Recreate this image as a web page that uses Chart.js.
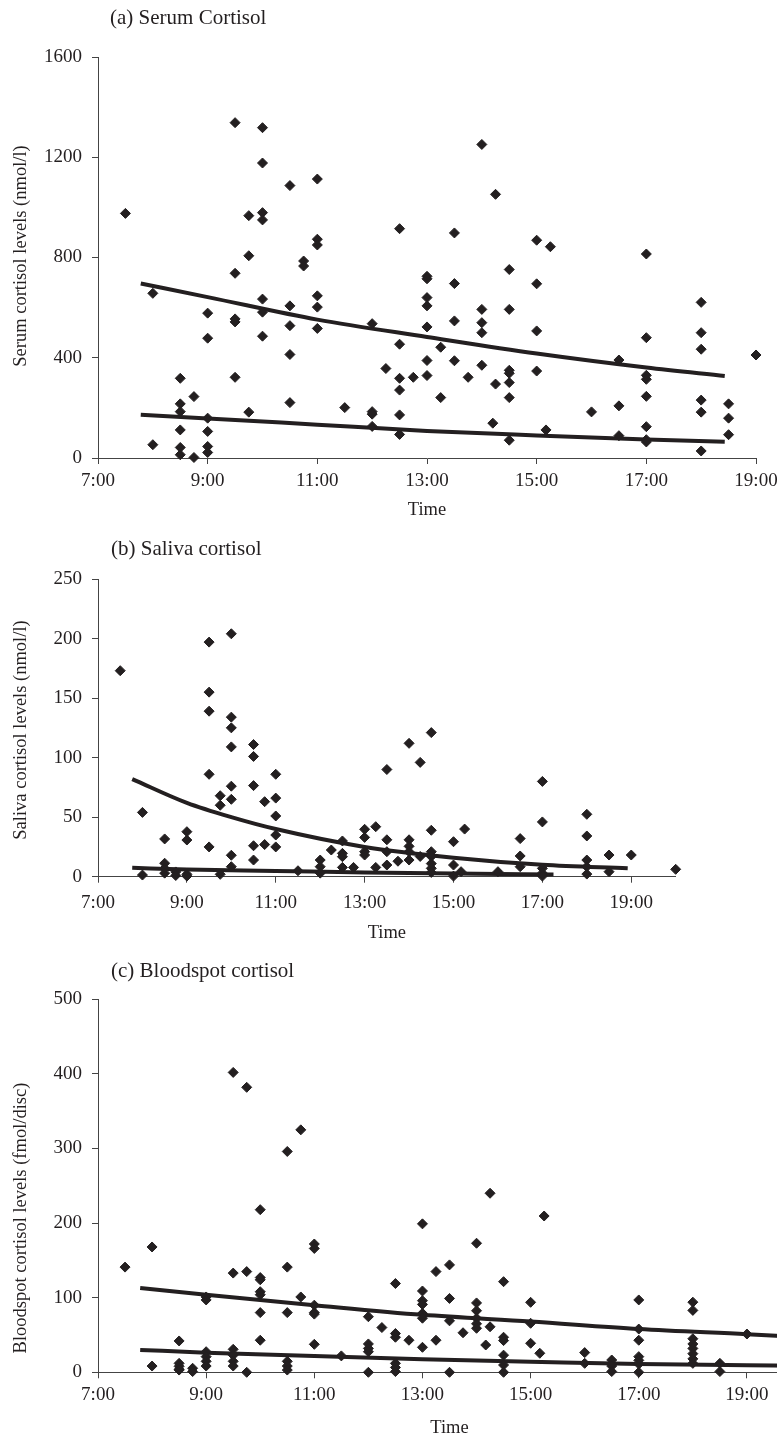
<!DOCTYPE html>
<html>
<head>
<meta charset="utf-8">
<script src="https://cdn.jsdelivr.net/npm/chart.js@4.4.1/dist/chart.umd.min.js"></script>
<style>
  html, body { margin: 0; padding: 0; background: #fff; }
  #page { position: relative; width: 777px; height: 1438px; overflow: hidden; background: #fff; }
  canvas { position: absolute; left: 0; }
  .ptitle { position: absolute; font-family: 'Liberation Serif', 'Times New Roman', serif; font-size: 21px; line-height: 24px; color: #231f20; white-space: nowrap; }
  .ytitle { position: absolute; font-family: 'Liberation Serif', 'Times New Roman', serif; font-size: 18.5px; line-height: 22px; color: #231f20; white-space: nowrap; transform: translate(-50%, -50%) rotate(-90deg); }
</style>
</head>
<body>
<div id="page">
  <canvas id="cA" width="810" height="530" style="top:0px"></canvas>
  <canvas id="cB" width="810" height="420" style="top:530px"></canvas>
  <canvas id="cC" width="810" height="510" style="top:950px"></canvas>
  <div class="ptitle" style="left:110px; top:5px">(a) Serum Cortisol</div>
  <div class="ptitle" style="left:111px; top:536px">(b) Saliva cortisol</div>
  <div class="ptitle" style="left:111px; top:958px">(c) Bloodspot cortisol</div>
  <div class="ytitle" style="left:20px; top:256px">Serum cortisol levels (nmol/l)</div>
  <div class="ytitle" style="left:20px; top:730px">Saliva cortisol levels (nmol/l)</div>
  <div class="ytitle" style="left:20px; top:1218px">Bloodspot cortisol levels (fmol/disc)</div>
</div>
<script>
// ---------- Data ----------
// Time of day in decimal hours; values per sample.
const serumTime = [
  7.5,
  8, 8,
  8.5, 8.5, 8.5, 8.5, 8.5, 8.5,
  8.75, 8.75,
  9, 9, 9, 9, 9, 9,
  9.5, 9.5, 9.5, 9.5, 9.5,
  9.75, 9.75, 9.75,
  10, 10, 10, 10, 10, 10, 10,
  10.5, 10.5, 10.5, 10.5, 10.5,
  10.75, 10.75,
  11, 11, 11, 11, 11, 11,
  11.5,
  12, 12, 12, 12,
  12.25,
  12.5, 12.5, 12.5, 12.5, 12.5, 12.5,
  12.75,
  13, 13, 13, 13, 13, 13, 13,
  13.25, 13.25,
  13.5, 13.5, 13.5, 13.5,
  13.75,
  14, 14, 14, 14, 14,
  14.2,
  14.25, 14.25,
  14.5, 14.5, 14.5, 14.5, 14.5, 14.5, 14.5,
  15, 15, 15, 15,
  15.17,
  15.25,
  16,
  16.5, 16.5, 16.5,
  17, 17, 17, 17, 17, 17, 17, 17,
  18, 18, 18, 18, 18, 18,
  18.5, 18.5, 18.5,
  19
];
const serumLevel = [
  976,
  657, 53,
  318, 216, 185, 112, 42, 13,
  245, 2,
  578, 478, 159, 106, 46, 22,
  1338, 737, 555, 543, 322,
  967, 807, 183,
  1318, 1177, 979, 950, 634, 582, 486,
  1087, 607, 528, 413, 221,
  786, 766,
  1113, 873, 850, 647, 602, 517,
  201,
  536, 185, 175, 126,
  357,
  915, 454, 318, 271, 172, 94,
  322,
  725, 715, 640, 607, 523, 389, 329,
  442, 241,
  898, 696, 547, 388,
  322,
  1251, 593, 540, 500, 370,
  139,
  1052, 295,
  752, 593, 350, 338, 301, 241, 71,
  869, 695, 507, 347,
  112,
  843,
  184,
  391, 208, 89,
  814, 480, 330, 314, 246, 125, 73, 64,
  621, 500, 434, 231, 183, 28,
  216, 159, 93,
  411
];
const serumTrendTime = [7.78, 9, 11, 13, 15, 17, 18.43];
const serumTrendHigh = [696, 642, 552, 483, 417, 361, 327];
const serumTrendLow  = [173, 158, 133, 108, 90, 74, 65];

const salivaTime = [
  7.5,
  8, 8,
  8.5, 8.5, 8.5, 8.5,
  8.75, 8.75,
  9, 9, 9, 9,
  9.5, 9.5, 9.5, 9.5, 9.5,
  9.75, 9.75, 9.75,
  10, 10, 10, 10, 10, 10, 10, 10,
  10.5, 10.5, 10.5, 10.5, 10.5,
  10.75, 10.75,
  11, 11, 11, 11, 11,
  11.5,
  12, 12, 12,
  12.25,
  12.5, 12.5, 12.5, 12.5,
  12.75,
  13, 13, 13, 13,
  13.25, 13.25,
  13.5, 13.5, 13.5, 13.5,
  13.75,
  14, 14, 14, 14, 14,
  14.25, 14.25,
  14.5, 14.5, 14.5, 14.5, 14.5, 14.5, 14.5,
  15, 15, 15,
  15.17,
  15.25,
  16,
  16.5, 16.5, 16.5,
  17, 17, 17, 17, 17,
  18, 18, 18, 18, 18,
  18.5, 18.5,
  19,
  20
];
const salivaLevel = [
  173,
  54, 1.4,
  31.7, 11.3, 7, 3,
  4, 1,
  37.8, 30.8, 2, 0.5,
  197, 155, 139, 86, 25,
  68, 60, 2,
  204, 134, 125, 109, 76, 65, 18, 8.4,
  111, 101, 76.5, 26, 14,
  63, 27,
  86, 66, 51, 35, 25,
  5,
  14, 8.4, 3,
  22.4,
  30, 19.6, 16.8, 7.8,
  7.8,
  39.8, 33, 21, 18.2,
  42, 7.8,
  90, 31, 21, 9.8,
  13,
  112, 31, 25.5, 21, 14,
  96, 17,
  121, 39, 21, 17, 11, 7, 3.6,
  29.4, 9.8, 0.5,
  4.2,
  40,
  4.2,
  32, 17.4, 8.4,
  80, 46, 7, 3, 0.5,
  52.4, 34.2, 14, 8.4, 2.2,
  18.2, 4.2,
  18.2,
  6.2
];
const salivaTrendHighTime = [7.77, 9, 10, 11, 13, 15, 17, 18.92];
const salivaTrendHigh     = [82, 62, 50, 40, 25, 16, 10, 7];
const salivaTrendLowTime  = [7.77, 9, 11, 13, 15, 17.25];
const salivaTrendLow      = [7.5, 6, 4.8, 3.5, 2.6, 1.9];

const bloodTime = [
  7.5,
  8, 8,
  8.5, 8.5, 8.5, 8.5, 8.5,
  8.75, 8.75,
  9, 9, 9, 9, 9, 9,
  9.5, 9.5, 9.5, 9.5, 9.5, 9.5,
  9.75, 9.75, 9.75,
  10, 10, 10, 10, 10, 10, 10,
  10.5, 10.5, 10.5, 10.5, 10.5, 10.5,
  10.75, 10.75,
  11, 11, 11, 11, 11, 11,
  11.5,
  12, 12, 12, 12, 12,
  12.25,
  12.5, 12.5, 12.5, 12.5, 12.5, 12.5,
  12.75,
  13, 13, 13, 13, 13, 13, 13,
  13.25, 13.25,
  13.5, 13.5, 13.5, 13.5,
  13.75,
  14, 14, 14, 14, 14, 14,
  14.17,
  14.25, 14.25,
  14.5, 14.5, 14.5, 14.5, 14.5, 14.5,
  15, 15, 15,
  15.17,
  15.25,
  16, 16,
  16.5, 16.5, 16.5,
  17, 17, 17, 17, 17, 17, 17,
  18, 18, 18, 18, 18, 18, 18, 18,
  18.5, 18.5,
  19
];
const bloodLevel = [
  141,
  168, 8.4,
  42, 12, 8, 4, 3,
  5.4, 1,
  101, 97, 27.6, 21, 14.7, 8.4,
  402, 133, 30.8, 23, 14.7, 8.4,
  382, 135, 0,
  218, 127, 124, 108, 104, 80, 43,
  296, 141, 80, 14.7, 8.4, 3,
  325, 101,
  172, 166, 90, 80, 78, 37.5,
  22,
  74.5, 38, 32, 27.6, 0,
  60,
  119, 52, 47, 12, 6.5, 1,
  43,
  199, 109, 96, 91, 79, 72.5, 33.5,
  135, 43,
  144, 99, 69, 0,
  53,
  173, 93, 82.5, 72.5, 65, 59,
  36.6,
  240, 61,
  121.5, 47, 42.5, 23, 9.8, 0,
  93.8, 65.7, 38.9,
  25.5,
  209.5,
  26.4, 12,
  16.5, 8.4, 1,
  97, 58, 43, 21, 16, 11, 0,
  94, 83, 45, 38, 32, 25, 18, 12,
  12, 1,
  51.3
];
const bloodTrendTime = [7.78, 9, 11, 13, 15, 17, 19, 19.8];
const bloodTrendHigh = [113, 104, 90, 77, 68, 58, 51, 48];
const bloodTrendLow  = [30, 26.3, 21.8, 17.4, 14.2, 11.1, 9.4, 8.9];

// Tick labels
const timeTickHours  = [7, 9, 11, 13, 15, 17, 19];
const timeTickLabels = ['7:00', '9:00', '11:00', '13:00', '15:00', '17:00', '19:00'];
const serumYTicks  = [0, 400, 800, 1200, 1600];
const salivaYTicks = [0, 50, 100, 150, 200, 250];
const bloodYTicks  = [0, 100, 200, 300, 400, 500];

// ---------- Rendering ----------
const FONT = "'Liberation Serif', 'Times New Roman', serif";
const INK = '#231f20';
const AXIS = '#444444';

function pairs(xs, ys) { return xs.map((x, i) => ({ x: x, y: ys[i] })); }

function trendSet(xs, ys) {
  return {
    type: 'line',
    data: pairs(xs, ys),
    borderColor: INK,
    backgroundColor: INK,
    borderWidth: 4,
    pointRadius: 0,
    showLine: true,
    fill: false,
    tension: 0.4,
    cubicInterpolationMode: 'monotone',
    order: 2
  };
}

function drawPanel(id, o) {
  const datasets = [
    {
      type: 'scatter',
      data: pairs(o.time, o.level),
      pointStyle: 'rectRot',
      pointRadius: 5,
      pointHoverRadius: 5,
      pointBackgroundColor: INK,
      pointBorderColor: INK,
      pointBorderWidth: 1,
      clip: false,
      order: 0
    }
  ].concat(o.trends.map(t => trendSet(t[0], t[1])));

  new Chart(document.getElementById(id), {
    type: 'scatter',
    data: { datasets: datasets },
    options: {
      responsive: false,
      animation: false,
      devicePixelRatio: 1,
      layout: { padding: { top: o.padTop, left: 0, right: o.padRight, bottom: 0 } },
      plugins: { legend: { display: false }, tooltip: { enabled: false }, title: { display: false } },
      scales: {
        x: {
          type: 'linear',
          position: 'bottom',
          min: 7,
          max: o.xMax,
          afterBuildTicks: s => { s.ticks = timeTickHours.map(v => ({ value: v })); },
          afterFit: s => { s.height = o.xAxisHeight; },
          grid: { drawOnChartArea: false, drawTicks: true, tickLength: 6, color: AXIS, lineWidth: 1 },
          border: { display: true, color: AXIS, width: 1 },
          ticks: {
            autoSkip: false,
            maxRotation: 0,
            padding: o.xTickPad,
            color: INK,
            font: { family: FONT, size: 19 },
            callback: (v) => { const i = timeTickHours.indexOf(v); return i >= 0 ? timeTickLabels[i] : ''; }
          },
          title: {
            display: true,
            text: 'Time',
            color: INK,
            font: { family: FONT, size: 18.5 },
            padding: { top: 0, bottom: o.xTitlePad }
          }
        },
        y: {
          type: 'linear',
          position: 'left',
          min: o.yTicks[0],
          max: o.yTicks[o.yTicks.length - 1],
          afterBuildTicks: s => { s.ticks = o.yTicks.map(v => ({ value: v })); },
          afterFit: s => { s.width = 98; },
          grid: { drawOnChartArea: false, drawTicks: true, tickLength: 6, color: AXIS, lineWidth: 1 },
          border: { display: true, color: AXIS, width: 1 },
          ticks: {
            autoSkip: false,
            padding: 10,
            color: INK,
            font: { family: FONT, size: 19 },
            callback: (v) => String(v)
          },
          title: { display: false }
        }
      }
    }
  });
}

drawPanel('cA', {
  time: serumTime, level: serumLevel,
  trends: [[serumTrendTime, serumTrendHigh], [serumTrendTime, serumTrendLow]],
  xMax: 19, yTicks: serumYTicks,
  padTop: 57, padRight: 54, xAxisHeight: 72, xTickPad: 5.5, xTitlePad: 8.9
});
drawPanel('cB', {
  time: salivaTime, level: salivaLevel,
  trends: [[salivaTrendHighTime, salivaTrendHigh], [salivaTrendLowTime, salivaTrendLow]],
  xMax: 20, yTicks: salivaYTicks,
  padTop: 49, padRight: 134.3, xAxisHeight: 73.3, xTickPad: 9, xTitlePad: 5.9
});
drawPanel('cC', {
  time: bloodTime, level: bloodLevel,
  trends: [[bloodTrendTime, bloodTrendHigh], [bloodTrendTime, bloodTrendLow]],
  xMax: 20, yTicks: bloodYTicks,
  padTop: 49.3, padRight: 9, xAxisHeight: 87.7, xTickPad: 5, xTitlePad: 20.9
});
</script>
</body>
</html>
